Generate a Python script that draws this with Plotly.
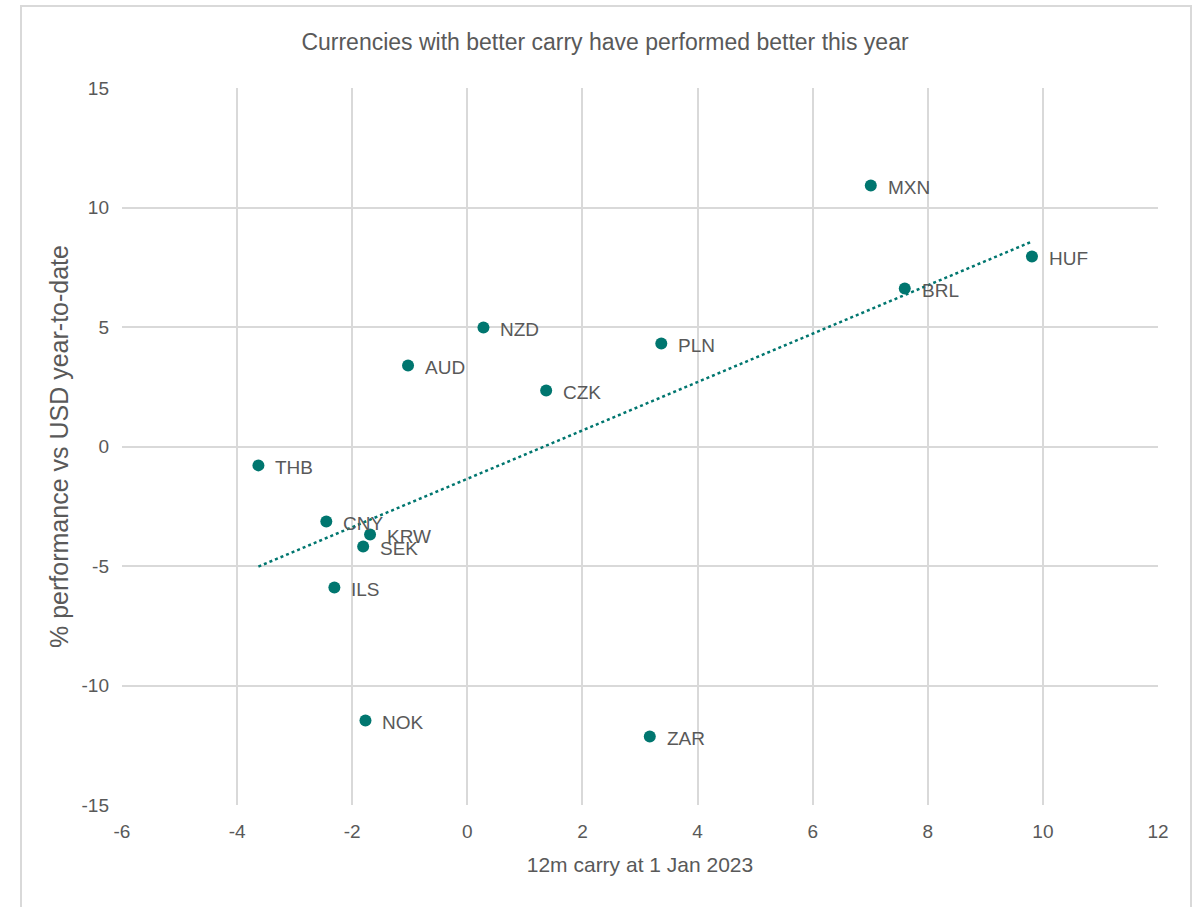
import numpy as np
import plotly.graph_objects as go

currencies = ["MXN", "HUF", "BRL", "NZD", "PLN", "AUD", "CZK", "THB", "CNY", "KRW", "SEK", "ILS", "NOK", "ZAR"]
carry = [7.01, 9.81, 7.60, 0.28, 3.37, -1.03, 1.37, -3.63, -2.45, -1.69, -1.81, -2.31, -1.77, 3.17]
performance = [10.92, 7.95, 6.61, 4.98, 4.31, 3.39, 2.34, -0.79, -3.14, -3.68, -4.18, -5.90, -11.46, -12.13]

x_ticks = [-6, -4, -2, 0, 2, 4, 6, 8, 10, 12]
y_ticks = [-15, -10, -5, 0, 5, 10, 15]

TEAL = "#00766F"
GRAY_TEXT = "#595959"
GRID = "#D9D9D9"
FAM = "Liberation Sans, Arial, sans-serif"

slope, intercept = np.polyfit(carry, performance, 1)
tx = [min(carry), max(carry)]
ty = [slope * v + intercept for v in tx]

fig = go.Figure()
fig.add_trace(go.Scatter(x=tx, y=ty, mode="lines",
                         line=dict(color=TEAL, width=2.5, dash="dot"),
                         hoverinfo="skip", showlegend=False))
fig.add_trace(go.Scatter(x=carry, y=performance, mode="markers",
                         marker=dict(color=TEAL, size=12),
                         text=currencies, showlegend=False))

for c, xv, yv in zip(currencies, carry, performance):
    fig.add_annotation(x=xv, y=yv, text=c, showarrow=False, xanchor="left",
                       xshift=15, yshift=-2,
                       font=dict(family=FAM, size=19, color=GRAY_TEXT))

W, H = 1199, 907
ml, mr, mt, mb = 122, 41, 88, 102
pw, ph = W - ml - mr, H - mt - mb

def px_x(p):
    return (p - ml) / pw

def px_y(p):
    return (H - mb - p) / ph

fig.add_shape(type="rect", xref="paper", yref="paper",
              x0=px_x(21), x1=px_x(1191), y0=px_y(915), y1=px_y(6),
              line=dict(color="#D9D9D9", width=2), layer="below")

axis_font = dict(family=FAM, size=19, color=GRAY_TEXT)

fig.update_layout(
    width=W, height=H,
    margin=dict(l=ml, r=mr, t=mt, b=mb),
    paper_bgcolor="white", plot_bgcolor="white",
    title=dict(text="Currencies with better carry have performed better this year",
               x=605 / W, xanchor="center", y=1 - 42 / H, yanchor="middle",
               font=dict(family=FAM, size=23, color=GRAY_TEXT)),
    xaxis=dict(range=[-6, 12], tickvals=x_ticks, ticktext=[str(v) for v in x_ticks],
               showgrid=True, gridcolor=GRID, gridwidth=2, zeroline=False,
               showline=False, ticks="", tickfont=axis_font, ticklabelstandoff=13,
               title=dict(text="12m carry at 1 Jan 2023", font=dict(family=FAM, size=21, color=GRAY_TEXT), standoff=16)),
    yaxis=dict(range=[-15, 15], tickvals=y_ticks, ticktext=[str(v) for v in y_ticks],
               showgrid=True, gridcolor=GRID, gridwidth=2, zeroline=False,
               showline=False, ticks="", tickfont=axis_font, ticklabelstandoff=12,
               title=dict(text="% performance vs USD year-to-date", font=dict(family=FAM, size=25, color=GRAY_TEXT), standoff=5)),
)

fig.write_html("out.html")
